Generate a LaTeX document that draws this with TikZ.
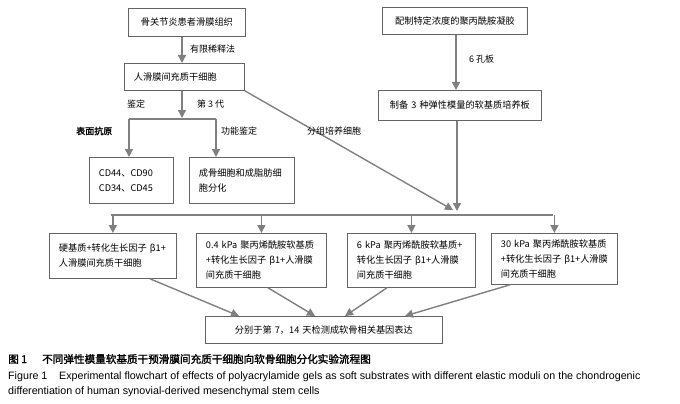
\documentclass[tikz,border=0pt]{standalone}
\usepackage{fontspec}
\setmainfont{Liberation Sans}
\newfontfamily\cjk{Noto Sans CJK SC}
\newfontfamily\cjkb[FakeBold=1.6]{Noto Sans CJK SC}
\newfontfamily\capen{Liberation Sans}
\usetikzlibrary{arrows.meta}
\definecolor{linegray}{RGB}{128,128,128}
\definecolor{boxgray}{RGB}{100,100,100}
\tikzset{
  box/.style={draw=boxgray, line width=0.8pt, inner xsep=9.5pt, inner ysep=0pt,
    anchor=north west, font=\cjk\fontsize{9.2}{15}\selectfont, align=left},
  cbox/.style={box, align=center},
  arr/.style={draw=linegray, line width=1.4pt, -{Triangle[length=8pt,width=8pt]}},
  ln/.style={draw=linegray, line width=1.4pt},
  lab/.style={font=\cjk\fontsize{9}{11}\selectfont, inner sep=0pt, anchor=west},
  blab/.style={font=\cjkb\fontsize{9}{11}\selectfont, inner sep=0pt, anchor=west},
  captxt/.style={inner sep=0pt, anchor=west},
}
\begin{document}
\begin{tikzpicture}[x=1pt,y=-1pt]
\useasboundingbox (0,0) rectangle (680,404);
% boxes
\node[cbox, minimum width=117pt, minimum height=28pt, text width=98pt] (tis) at (128,8) {骨关节炎患者滑膜组织};
\node[box, minimum width=120pt, minimum height=27pt, text width=101pt] (msc) at (124,63) {人滑膜间充质干细胞};
\node[box, minimum width=84pt, minimum height=46pt, text width=65pt] (cd) at (89,157) {CD44、CD90\\CD34、CD45};
\node[box, minimum width=105pt, minimum height=46pt, text width=86pt] (fn) at (189,157) {成骨细胞和成脂肪细\\胞分化};
\node[cbox, minimum width=145pt, minimum height=27pt, text width=126pt] (gel) at (382,7) {配制特定浓度的聚丙酰胺凝胶};
\node[cbox, minimum width=163pt, minimum height=30pt, text width=144pt] (prep) at (378,90) {制备~3~种弹性模量的软基质培养板};
\node[box, minimum width=127pt, minimum height=45pt, text width=108pt] (r1) at (49,233) {硬基质+转化生长因子~β1+\\人滑膜间充质干细胞};
\node[box, minimum width=130pt, minimum height=54pt, text width=111pt] (r2) at (196,233) {0.4~kPa~聚丙烯酰胺软基质\\+转化生长因子~β1+人滑膜\\间充质干细胞};
\node[box, minimum width=128pt, minimum height=54pt, text width=109pt] (r3) at (347,233) {6~kPa~聚丙烯酰胺软基质+\\转化生长因子~β1+人滑膜\\间充质干细胞};
\node[box, minimum width=126pt, minimum height=51pt, text width=107pt] (r4) at (491,233) {30~kPa~聚丙烯酰胺软基质\\+转化生长因子~β1+人滑膜\\间充质干细胞};
\node[cbox, minimum width=237pt, minimum height=27pt, text width=218pt] (fin) at (205,316) {分别于第~7，14~天检测成软骨相关基因表达};
% helper coordinates
\coordinate (cx) at (182,0);
\coordinate (sp) at (182,118);
\coordinate (hl) at (129,119);
\coordinate (hr) at (216,119);
\coordinate (gx) at (456,0);
\coordinate (px) at (457,0);
\coordinate (cv) at (453,210);
\coordinate (cv2) at (457,211);
\coordinate (hy) at (0,215);
\coordinate (hy1) at (111,215);
\coordinate (hy4) at (553,215);
\coordinate (s1) at (150,0);
\coordinate (s2) at (268,0);
\coordinate (s3) at (387,0);
\coordinate (s4) at (510,0);
\coordinate (t1) at (239,0);
\coordinate (t2) at (315,0);
\coordinate (t3) at (345,0);
\coordinate (t4) at (405,0);
% connectors
\draw[arr] (tis.south -| cx) -- (msc.north -| cx);
\draw[arr] (msc.south -| cx) -- (sp);
\draw[ln] (hl) -- (hr);
\draw[arr] (hl) -- (cd.north -| hl);
\draw[arr] (hr) -- (fn.north -| hr);
\draw[arr] (gel.south -| gx) -- (prep.north -| gx);
\draw[arr] (msc.south east) -- (cv);
\draw[arr] (prep.south -| px) -- (cv2);
\draw[ln] (hy1) -- (hy4);
\draw[arr] (r1.north |- hy) -- (r1.north);
\draw[arr] (r2.north |- hy) -- (r2.north);
\draw[arr] (r3.north |- hy) -- (r3.north);
\draw[arr] (r4.north |- hy) -- (r4.north);
\draw[arr] (r1.south -| s1) -- (fin.north -| t1);
\draw[arr] (r2.south -| s2) -- (fin.north -| t2);
\draw[arr] (r3.south -| s3) -- (fin.north -| t3);
\draw[arr] (r4.south -| s4) -- (fin.north -| t4);
% labels
\node[lab] (l1) at (190,49) {有限稀释法};
\node[lab] (l2) at (127,104) {鉴定};
\node[lab] (l3) at (197,104) {第~3~代};
\node[blab] (l4) at (76,131) {表面抗原};
\node[lab] (l5) at (221,131) {功能鉴定};
\node[lab] (l6) at (307,131) {分组培养细胞};
\node[lab] (l7) at (469,59) {6~孔板};
% caption
\node[captxt, font=\cjkb\fontsize{10.6}{12}\selectfont] (c1) at (8,359) {\makebox[34pt][l]{图~1}不同弹性模量软基质干预滑膜间充质干细胞向软骨细胞分化实验流程图};
\node[captxt, font=\capen\fontsize{10.7}{12}\selectfont] (c2) at (8,377) {\makebox[51pt][l]{Figure 1}Experimental flowchart of effects of polyacrylamide gels as soft substrates with different elastic moduli on the chondrogenic};
\node[captxt, font=\capen\fontsize{10.7}{12}\selectfont] (c3) at (8,392) {differentiation of human synovial-derived mesenchymal stem cells};
\end{tikzpicture}
\end{document}
